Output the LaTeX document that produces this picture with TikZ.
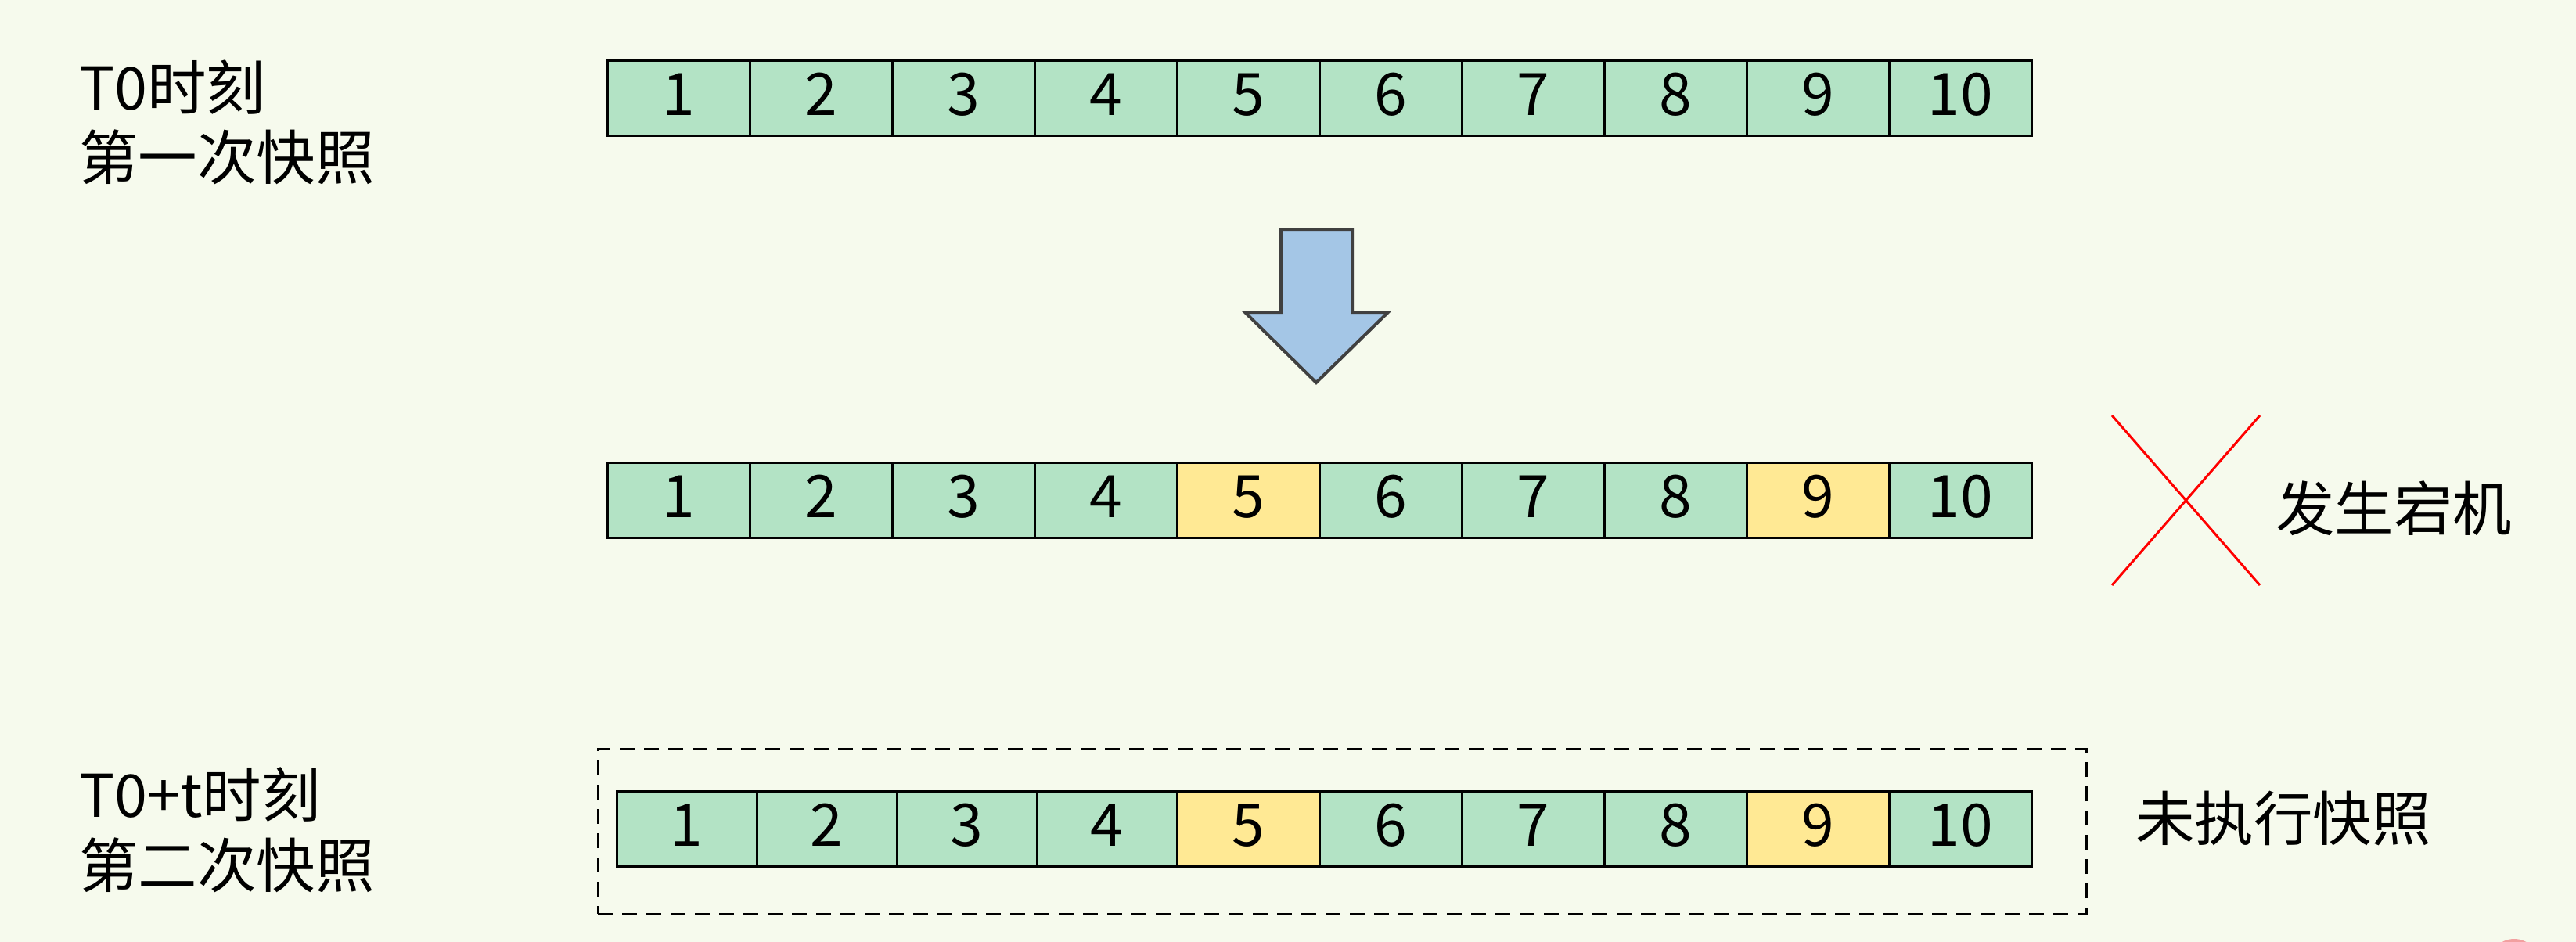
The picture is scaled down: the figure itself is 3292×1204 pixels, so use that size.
\documentclass[tikz,border=0pt]{standalone}
\usepackage{fontspec}
\setmainfont{Noto Sans CJK SC}
\definecolor{bgc}{HTML}{F6FAED}
\definecolor{cellgreen}{HTML}{B3E3C5}
\definecolor{cellyellow}{HTML}{FFE994}
\definecolor{arrowblue}{HTML}{A4C6E6}
\definecolor{arrowedge}{HTML}{404040}
\definecolor{dotpink}{HTML}{F2A0A0}
\newcommand{\cellnum}[1]{\raisebox{10pt}{#1}}
\tikzset{
  cellbox/.style={draw=black, line width=3pt, fill=cellgreen, minimum width=182pt,
    minimum height=96pt, inner sep=0pt, font=\fontsize{75}{75}\selectfont},
  hot/.style={fill=cellyellow},
  lbl/.style={anchor=base west, inner sep=0pt, font=\fontsize{75.5}{90}\selectfont},
}
\begin{document}
\begin{tikzpicture}[x=1pt,y=-1pt]
\fill[bgc] (0,0) rectangle (3292,1204);
\useasboundingbox (0,0) rectangle (3292,1204);
% labels
\node[lbl] (l1a) at (101,140) {T0时刻};
\node[lbl] (l1b) at (101,229.5) {第一次快照};
\node[lbl] (l2a) at (101,1044) {T0+t时刻};
\node[lbl] (l2b) at (101,1134) {第二次快照};
\node[lbl] (crash) at (2908,678) {发生宕机};
\node[lbl] (nosnap) at (2729,1074) {未执行快照};
% top row
\foreach \i in {1,...,10}{
  \node[cellbox] (t\i) at ({776+182*(\i-0.5)},125.5) {\cellnum{\i}};
}
% middle row
\foreach \i in {1,...,10}{
  \ifnum\i=5 \def\hh{hot}\else\ifnum\i=9 \def\hh{hot}\else\def\hh{}\fi\fi
  \node[cellbox,\hh] (m\i) at ({776+182*(\i-0.5)},639.5) {\cellnum{\i}};
}
% bottom row
\foreach \i in {1,...,4}{
  \node[cellbox,minimum width=179pt] (b\i) at ({788+179*(\i-0.5)},1059.5) {\cellnum{\i}};
}
\foreach \i in {5,...,10}{
  \ifnum\i=5 \def\hh{hot}\else\ifnum\i=9 \def\hh{hot}\else\def\hh{}\fi\fi
  \node[cellbox,\hh] (b\i) at ({1504+182*(\i-4.5)},1059.5) {\cellnum{\i}};
}
% dashed box
\node[draw=black, line width=3pt, dash pattern=on 19pt off 12pt, inner sep=0pt,
  minimum width=1902pt, minimum height=211pt] (dbox) at (1715,1062.5) {};
% block arrow
\draw[fill=arrowblue, draw=arrowedge, line width=4pt, line join=miter]
  (1637,293) -- (1728,293) -- (1728,399) -- (1774,399) -- (1682,489)
  -- (1591,399) -- (1637,399) -- cycle;
% red X
\coordinate (x1) at (2699,531);
\coordinate (x2) at (2888,748);
\coordinate (x3) at (2699,748);
\coordinate (x4) at (2888,531);
\draw[red, line width=3pt] (x1) -- (x2);
\draw[red, line width=3pt] (x3) -- (x4);
% pink dot at edge
\fill[dotpink] (3213,1232) circle (32);
\end{tikzpicture}
\end{document}
